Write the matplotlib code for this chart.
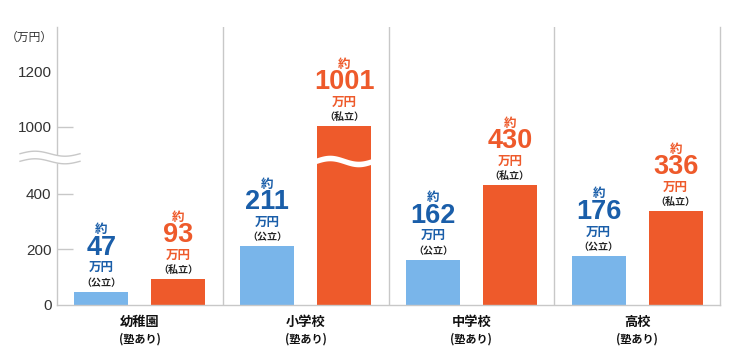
import numpy as np
import matplotlib
matplotlib.use("Agg")
import matplotlib.pyplot as plt
import matplotlib.transforms as mtransforms

plt.rcParams['font.family'] = ['Noto Sans CJK JP', 'DejaVu Sans']

# ---- data ----
categories = ["幼稚園", "小学校", "中学校", "高校"]
sub_label = "(塾あり)"
public_values = [47, 211, 162, 176]
private_values = [93, 1001, 430, 336]
public_tag = "（公立）"
private_tag = "（私立）"
unit = "万円"
prefix = "約"
ytick_values = [0, 200, 400, 1000, 1200]
ytick_marks = [200, 400, 1000]
axis_unit = "（万円）"

BLUE_BAR = "#79b5ea"
ORANGE = "#ee5a2b"
BLUE_TEXT = "#1a5ea9"
GRID = "#c8c8c8"

# broken axis: compress 460..1000 to one third
def fwd(v):
    v = np.asarray(v, dtype=float)
    return np.where(v <= 460, v, np.where(v < 1000, 460 + (v - 460) / 3.0, v - 360))

def inv(u):
    u = np.asarray(u, dtype=float)
    return np.where(u <= 460, u, np.where(u < 640, 460 + (u - 460) * 3.0, u + 360))

W, H = 733, 354
fig = plt.figure(figsize=(W / 100, H / 100), dpi=100)
ax = fig.add_axes([57 / W, 49 / H, 663 / W, 278 / H])
ax.set_yscale('function', functions=(fwd, inv))
ax.set_ylim(0, 1358)
x = np.arange(len(categories))
ax.set_xlim(-0.5, len(categories) - 0.5)

off = 0.232
bw = 0.325
ax.bar(x - off, public_values, width=bw, color=BLUE_BAR, zorder=2)
ax.bar(x + off, private_values, width=bw, color=ORANGE, zorder=2)

# spines
ax.spines['top'].set_visible(False)
for s in ['left', 'bottom', 'right']:
    ax.spines[s].set_color(GRID)
    ax.spines[s].set_linewidth(1)
for i in range(len(categories) - 1):
    ax.axvline(i + 0.5, color=GRID, lw=1, zorder=1)

# y ticks
ax.set_yticks(ytick_values)
ax.set_yticklabels([str(v) for v in ytick_values])
ax.yaxis.set_minor_locator(matplotlib.ticker.NullLocator())
ax.tick_params(axis='y', length=0, pad=4, labelsize=11, labelcolor="#333333")
for lab in ax.get_yticklabels():
    lab.set_fontfamily(['Liberation Sans', 'DejaVu Sans'])
ax.hlines(ytick_marks, 0, 16 / 663, transform=ax.get_yaxis_transform(),
          color=GRID, lw=1, zorder=1)
ax.set_xticks([])
ax.text(-4 / 663, 1.0 - 10 / 278, axis_unit, transform=ax.transAxes,
        ha='right', va='center', fontsize=8.5, color="#333333")

# x labels
xt = ax.get_xaxis_transform()
for i, c in enumerate(categories):
    ax.text(x[i], -17 / 278, c, transform=xt, ha='center', va='center',
            fontsize=9.5, fontweight='bold', color='#111111')
    ax.text(x[i], -34 / 278, sub_label, transform=xt, ha='center', va='center',
            fontsize=8, fontweight='bold', color='#111111')

# value labels
def label(xpos, val, color, tag):
    kw = dict(xy=(xpos, val), textcoords='offset pixels', ha='center', va='center',
              annotation_clip=False)
    ax.annotate(tag, xytext=(0, 9), fontsize=7.2, fontweight='bold', color='#222222', **kw)
    ax.annotate(unit, xytext=(0, 24), fontsize=9, fontweight='bold', color=color, **kw)
    ax.annotate(str(val), xytext=(0, 44), fontsize=19.5, fontweight='bold', color=color,
                family=['Liberation Sans', 'DejaVu Sans'], **kw)
    ax.annotate(prefix, xytext=(0, 62), fontsize=9, fontweight='bold', color=color, **kw)

for i in range(len(categories)):
    label(x[i] - off, public_values[i], BLUE_TEXT, public_tag)
    label(x[i] + off, private_values[i], ORANGE, private_tag)

# axis break wave on y-axis
tr = ax.transAxes
xs = np.linspace(-37 / 663, 23 / 663, 80)
ph = 2 * np.pi * (xs - xs[0]) / (xs[-1] - xs[0])
yc = (305 - 157.5) / 278
amp = 2.5 / 278
half = 3.8 / 278
top = yc + half + amp * np.sin(ph)
bot = yc - half + amp * np.sin(ph)
ax.fill_between(xs, bot, top, transform=tr, color='white', zorder=6, clip_on=False, lw=0)
ax.plot(xs, top, transform=tr, color=GRID, lw=1, zorder=7, clip_on=False)
ax.plot(xs, bot, transform=tr, color=GRID, lw=1, zorder=7, clip_on=False)

# break wave on bars exceeding the break
bt = mtransforms.blended_transform_factory(ax.transData, ax.transAxes)
for i, v in enumerate(private_values):
    if v >= 1000:
        xl, xr = x[i] + off - bw / 2 - 0.01, x[i] + off + bw / 2 + 0.01
        xs2 = np.linspace(xl, xr, 80)
        ph2 = 2 * np.pi * (xs2 - xl) / (xr - xl)
        yc2 = (305 - 161) / 278
        t2 = yc2 + 2.8 / 278 + 3 / 278 * np.sin(ph2)
        b2 = yc2 - 2.8 / 278 + 3 / 278 * np.sin(ph2)
        ax.fill_between(xs2, b2, t2, transform=bt, color='white', zorder=3, lw=0)

fig.savefig("out.png", dpi=100)
